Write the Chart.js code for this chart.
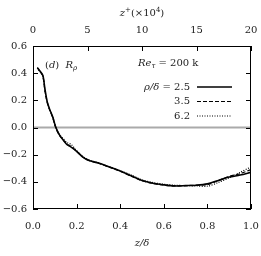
<!DOCTYPE html>
<html>
<head>
<meta charset="utf-8">
<script src="https://cdn.jsdelivr.net/npm/chart.js@4"></script>
<style>
  html, body { margin: 0; padding: 0; background: #fff; }
  #wrap { width: 261px; height: 256px; }
</style>
</head>
<body>
<div id="wrap"><canvas id="myChart"></canvas></div>
<script>
// z/delta positions
let zDelta = [0.02, 0.03, 0.045, 0.055, 0.065, 0.075, 0.09, 0.105, 0.12, 0.135, 0.155, 0.175, 0.2, 0.23, 0.26, 0.3, 0.35, 0.4, 0.45, 0.5, 0.55, 0.6, 0.65, 0.7, 0.75, 0.8, 0.85, 0.9, 0.95, 1.0];
// R_rho for rho/delta = 2.5, 3.5, 6.2
let rho25 = [0.44, 0.42, 0.385, 0.28, 0.19, 0.14, 0.08, 0.0, -0.05, -0.085, -0.125, -0.145, -0.175, -0.22, -0.245, -0.262, -0.29, -0.32, -0.355, -0.39, -0.41, -0.422, -0.43, -0.428, -0.425, -0.415, -0.39, -0.365, -0.35, -0.33];
let rho35 = [0.44, 0.415, 0.38, 0.27, 0.185, 0.135, 0.075, -0.005, -0.055, -0.085, -0.12, -0.14, -0.175, -0.218, -0.245, -0.262, -0.292, -0.322, -0.358, -0.392, -0.412, -0.424, -0.43, -0.428, -0.424, -0.42, -0.39, -0.36, -0.34, -0.31];
let rho62 = [0.44, 0.415, 0.38, 0.27, 0.19, 0.14, 0.08, 0.0, -0.05, -0.075, -0.11, -0.125, -0.17, -0.215, -0.24, -0.26, -0.29, -0.318, -0.35, -0.385, -0.405, -0.418, -0.425, -0.428, -0.43, -0.432, -0.405, -0.37, -0.33, -0.29];

let xTicks = [0, 0.2, 0.4, 0.6, 0.8, 1.0];
let yTicks = [-0.6, -0.4, -0.2, 0, 0.2, 0.4, 0.6];
let topTicks = [0, 5, 10, 15, 20];

let serif = "'DejaVu Serif', 'Liberation Serif', serif";

function pts(ys) {
  return zDelta.map((x, i) => ({ x: x, y: ys[i] }));
}

function minus(s) {
  return s.replace("-", "\u2212");
}

function fitX(h) {
  return s => {
    s.height = h;
    s.paddingLeft = 0;
    s.paddingRight = 10;
  };
}

// draws inward tick marks, the frame, the zero line and the text labels
let decorPlugin = {
  id: "decor",
  beforeDatasetsDraw(chart) {
    let ctx = chart.ctx;
    let a = chart.chartArea;
    let y0 = chart.scales.y.getPixelForValue(0);
    ctx.save();
    ctx.strokeStyle = "#aaaaaa";
    ctx.lineWidth = 2;
    ctx.beginPath();
    ctx.moveTo(a.left, y0);
    ctx.lineTo(a.right, y0);
    ctx.stroke();
    ctx.restore();
  },
  afterDatasetsDraw(chart) {
    let ctx = chart.ctx;
    let a = chart.chartArea;
    let sx = chart.scales.x;
    let sy = chart.scales.y;
    let st = chart.scales.xTop;
    let len = 5;
    ctx.save();
    ctx.strokeStyle = "#000";
    ctx.lineWidth = 1;
    ctx.strokeRect(a.left + 0.5, a.top + 0.5, a.right - a.left - 1, a.bottom - a.top - 1);
    ctx.beginPath();
    xTicks.forEach(v => {
      let p = Math.round(sx.getPixelForValue(v)) + 0.5;
      ctx.moveTo(p, a.bottom);
      ctx.lineTo(p, a.bottom - len);
    });
    topTicks.forEach(v => {
      let p = Math.round(st.getPixelForValue(v)) + 0.5;
      ctx.moveTo(p, a.top);
      ctx.lineTo(p, a.top + len);
    });
    yTicks.forEach(v => {
      let p = Math.round(sy.getPixelForValue(v)) + 0.5;
      ctx.moveTo(a.left, p);
      ctx.lineTo(a.left + len, p);
      ctx.moveTo(a.right, p);
      ctx.lineTo(a.right - len, p);
    });
    ctx.stroke();

    ctx.fillStyle = "#222";
    ctx.textBaseline = "middle";

    // pieces: [text, style, size, dy]
    function drawPieces(x, y, pieces, align) {
      let w = 0;
      pieces.forEach(p => {
        ctx.font = p[1] + " " + p[2] + "px " + serif;
        w += ctx.measureText(p[0]).width;
      });
      let cx = align === "right" ? x - w : (align === "center" ? x - w / 2 : x);
      ctx.textAlign = "left";
      pieces.forEach(p => {
        ctx.font = p[1] + " " + p[2] + "px " + serif;
        ctx.fillText(p[0], cx, y + p[3]);
        cx += ctx.measureText(p[0]).width;
      });
    }

    // axis titles
    drawPieces(142, 13, [["z", "italic", 10, 0], ["+", "normal", 7, -3], ["(\u00d710", "normal", 10, 0], ["4", "normal", 7, -3], [")", "normal", 10, 0]], "center");
    drawPieces(142, 243, [["z/\u03b4", "italic", 10, 0]], "center");

    // panel label
    drawPieces(45, 65, [["(", "normal", 10, 0], ["d", "italic", 10, 0], [")  ", "normal", 10, 0], ["R", "italic", 10, 0], ["\u03c1", "italic", 7, 3]], "left");

    // legend
    drawPieces(138, 63, [["Re", "italic", 10, 0], ["\u03c4", "italic", 7, 3], [" = 200 k", "normal", 10, 0]], "left");
    let rows = [
      { label: [["\u03c1/\u03b4", "italic", 10, 0], [" = 2.5", "normal", 10, 0]], dash: [], y: 87 },
      { label: [["3.5", "normal", 10, 0]], dash: [4, 2], y: 101.5 },
      { label: [["6.2", "normal", 10, 0]], dash: [1, 1.5], y: 116 }
    ];
    rows.forEach(r => {
      drawPieces(190, r.y, r.label, "right");
      ctx.beginPath();
      ctx.setLineDash(r.dash);
      ctx.lineWidth = r.dash.length ? 1.2 : 1.5;
      ctx.moveTo(197, r.y);
      ctx.lineTo(232, r.y);
      ctx.stroke();
    });
    ctx.setLineDash([]);
    ctx.restore();
  }
};

let myChart = document.getElementById("myChart").getContext("2d");

let rhoChart = new Chart(myChart, {
  type: "scatter",
  data: {
    datasets: [
      {
        label: "2.5",
        data: pts(rho25),
        showLine: true,
        borderColor: "#000",
        borderWidth: 1.6,
        pointRadius: 0,
        tension: 0.3,
      },
      {
        label: "3.5",
        data: pts(rho35),
        showLine: true,
        borderColor: "#000",
        borderWidth: 1.2,
        borderDash: [4, 2],
        pointRadius: 0,
        tension: 0.3,
      },
      {
        label: "6.2",
        data: pts(rho62),
        showLine: true,
        borderColor: "#000",
        borderWidth: 1.2,
        borderDash: [1, 1.5],
        pointRadius: 0,
        tension: 0.3,
      },
    ],
  },
  options: {
    responsive: true,
    maintainAspectRatio: false,
    animation: false,
    layout: {
      padding: 0,
    },
    plugins: {
      legend: { display: false },
      tooltip: { enabled: false },
    },
    scales: {
      x: {
        type: "linear",
        position: "bottom",
        min: 0,
        max: 1,
        grid: { display: false, drawTicks: false },
        border: { display: false },
        afterBuildTicks: s => { s.ticks = xTicks.map(v => ({ value: v })); },
        afterFit: fitX(47),
        ticks: {
          padding: 11,
          color: "#222",
          font: { family: serif, size: 10 },
          maxRotation: 0,
          callback: v => v.toFixed(1),
        },
      },
      xTop: {
        type: "linear",
        position: "top",
        min: 0,
        max: 20,
        grid: { display: false, drawTicks: false },
        border: { display: false },
        afterBuildTicks: s => { s.ticks = topTicks.map(v => ({ value: v })); },
        afterFit: fitX(46),
        ticks: {
          padding: 10,
          color: "#222",
          font: { family: serif, size: 10 },
          maxRotation: 0,
          callback: v => String(v),
        },
      },
      y: {
        type: "linear",
        min: -0.6,
        max: 0.6,
        grid: { display: false, drawTicks: false },
        border: { display: false },
        afterBuildTicks: s => { s.ticks = yTicks.map(v => ({ value: v })); },
        afterFit: s => { s.width = 33; s.paddingTop = 0; s.paddingBottom = 0; },
        ticks: {
          padding: 6,
          color: "#222",
          font: { family: serif, size: 10 },
          callback: v => minus(v.toFixed(1)),
        },
      },
    },
  },
  plugins: [decorPlugin],
});
</script>
</body>
</html>
